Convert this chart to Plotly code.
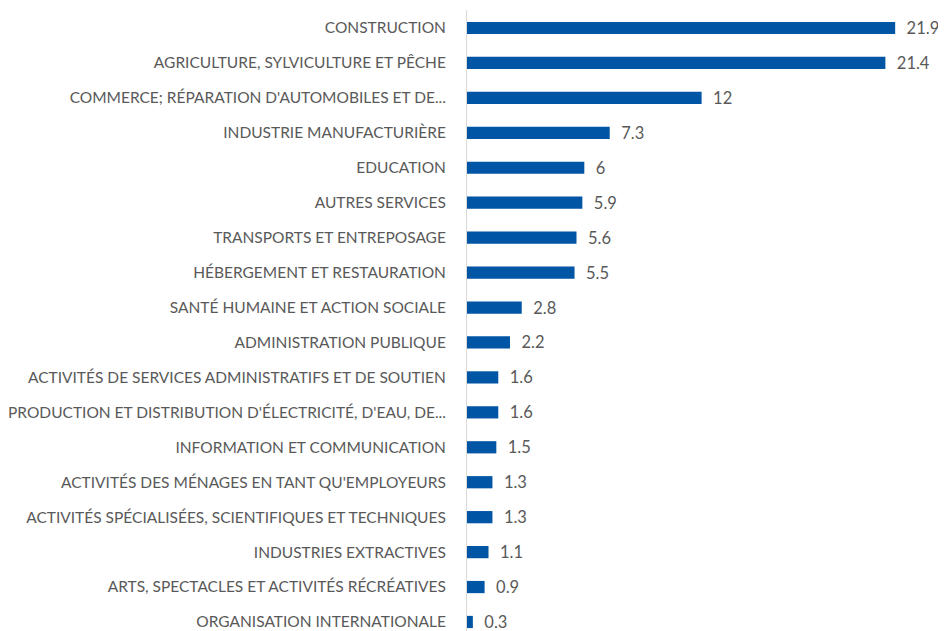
import plotly.graph_objects as go

categories = [
    "CONSTRUCTION",
    "AGRICULTURE, SYLVICULTURE ET PÊCHE",
    "COMMERCE; RÉPARATION D'AUTOMOBILES ET DE...",
    "INDUSTRIE MANUFACTURIÈRE",
    "EDUCATION",
    "AUTRES SERVICES",
    "TRANSPORTS ET ENTREPOSAGE",
    "HÉBERGEMENT ET RESTAURATION",
    "SANTÉ HUMAINE ET ACTION SOCIALE",
    "ADMINISTRATION PUBLIQUE",
    "ACTIVITÉS DE SERVICES ADMINISTRATIFS ET DE SOUTIEN",
    "PRODUCTION ET DISTRIBUTION D'ÉLECTRICITÉ, D'EAU, DE...",
    "INFORMATION ET COMMUNICATION",
    "ACTIVITÉS DES MÉNAGES EN TANT QU'EMPLOYEURS",
    "ACTIVITÉS SPÉCIALISÉES, SCIENTIFIQUES ET TECHNIQUES",
    "INDUSTRIES EXTRACTIVES",
    "ARTS, SPECTACLES ET ACTIVITÉS RÉCRÉATIVES",
    "ORGANISATION INTERNATIONALE",
]
values = [21.9, 21.4, 12, 7.3, 6, 5.9, 5.6, 5.5, 2.8, 2.2, 1.6, 1.6, 1.5, 1.3, 1.3, 1.1, 0.9, 0.3]
value_labels = ["21.9", "21.4", "12", "7.3", "6", "5.9", "5.6", "5.5", "2.8", "2.2",
                "1.6", "1.6", "1.5", "1.3", "1.3", "1.1", "0.9", "0.3"]

fig = go.Figure(go.Bar(
    x=values,
    y=categories,
    orientation="h",
    marker=dict(color="#0055A5", line=dict(width=0)),
    text=["  " + t for t in value_labels],
    textposition="outside",
    textfont=dict(family="Lato", size=16.5, color="#595959"),
    constraintext="none",
    cliponaxis=False,
    width=0.35,
    hoverinfo="skip",
))

fig.update_layout(
    width=938,
    height=623,
    margin=dict(l=457, r=0, t=2, b=0),
    paper_bgcolor="white",
    plot_bgcolor="white",
    showlegend=False,
    font=dict(family="Lato", size=14, color="#595959"),
    xaxis=dict(range=[0, 24.5], visible=False, showgrid=False, zeroline=False),
    yaxis=dict(
        type="category",
        range=[17.258, -0.515],
        showline=True,
        linecolor="#D9D9D9",
        linewidth=1,
        showgrid=False,
        ticks="",
        ticklabelstandoff=17,
        tickfont=dict(family="Lato", size=15.5, color="#595959"),
    ),
)

fig.write_html("out.html")
